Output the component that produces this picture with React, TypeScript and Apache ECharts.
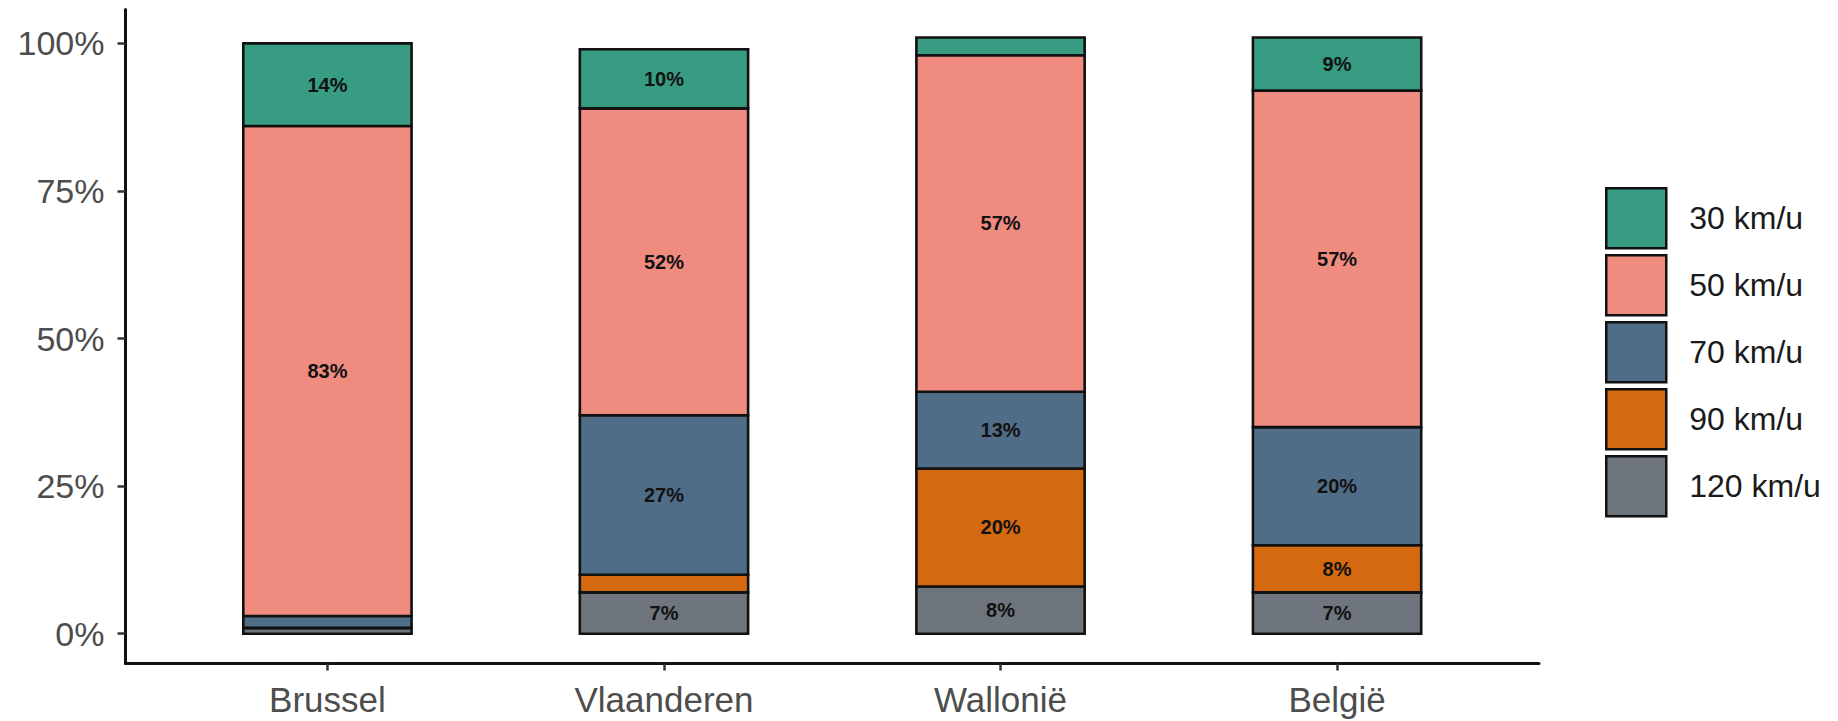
import React, { useEffect, useRef } from "react";
import * as echarts from "echarts";

const categories = ["Brussel", "Vlaanderen", "Wallonië", "België"];
const speedLabels = ["30 km/u", "50 km/u", "70 km/u", "90 km/u", "120 km/u"];
// shares per region (fractions), bottom of stack is 120 km/u
const share120 = [0.01, 0.07, 0.08, 0.07];
const share90 = [0.0, 0.03, 0.2, 0.08];
const share70 = [0.02, 0.27, 0.13, 0.2];
const share50 = [0.83, 0.52, 0.57, 0.57];
const share30 = [0.14, 0.1, 0.03, 0.09];
const yTicks = [0, 0.25, 0.5, 0.75, 1];
const xTicks = [0, 1, 2, 3];

const colors: Record<string, string> = {
  "30 km/u": "#379C82",
  "50 km/u": "#F08B80",
  "70 km/u": "#4F6D87",
  "90 km/u": "#D5690F",
  "120 km/u": "#6E757D",
};

const FONT = "Liberation Sans, Arial, Helvetica, sans-serif";
const Y_MIN = -0.0504;
const Y_MAX = 1.0576;

export default function App() {
  const ref = useRef<HTMLDivElement>(null);
  useEffect(() => {
    document.body.style.margin = "0";
    if (!ref.current) return;
    const chart = echarts.init(ref.current, undefined, { renderer: "svg" });
    const stackOrder: [string, number[]][] = [
      ["120 km/u", share120],
      ["90 km/u", share90],
      ["70 km/u", share70],
      ["50 km/u", share50],
      ["30 km/u", share30],
    ];
    const cumulative = categories.map(() => 0);
    const series = stackOrder.map(([name, vals]) => {
      const data = vals.map((v, i) => {
        const base = cumulative[i];
        cumulative[i] += v;
        return [i, v, base];
      });
      const color = colors[name];
      return {
        name,
        type: "custom",
        itemStyle: { color },
        data,
        encode: { x: 0, y: [1, 2] },
        renderItem: (params: any, api: any) => {
          const i = api.value(0);
          const v = api.value(1);
          const base = api.value(2);
          const p0 = api.coord([i, base]);
          const p1 = api.coord([i, base + v]);
          const w = api.size([1, 0])[0] * 0.5;
          const label = v >= 0.05 ? Math.round(v * 100) + "%" : "";
          return {
            type: "rect",
            shape: { x: p0[0] - w / 2, y: p1[1], width: w, height: p0[1] - p1[1] },
            style: { fill: color, stroke: "#111", lineWidth: 2.6 },
            textContent: {
              style: {
                text: label,
                fontFamily: FONT,
                fontWeight: "bold",
                fontSize: 20,
                fill: "#111",
              },
            },
            textConfig: { position: "inside" },
          };
        },
      };
    });
    chart.setOption({
      animation: false,
      backgroundColor: "#ffffff",
      grid: { left: 125.5, right: 299, top: 9.4, bottom: 57.5 },
      xAxis: {
        type: "value",
        min: -0.6,
        max: 3.6,
        splitLine: { show: false },
        axisLine: { show: true, onZero: false, lineStyle: { color: "#111", width: 3 } },
        axisTick: { show: true, customValues: xTicks, length: 7, lineStyle: { color: "#333", width: 2.5 } },
        axisLabel: {
          customValues: xTicks,
          formatter: (v: number) => categories[Math.round(v)] ?? "",
          fontFamily: FONT,
          fontSize: 35,
          color: "#4D4D4D",
          margin: 18,
        },
      },
      yAxis: {
        type: "value",
        min: Y_MIN,
        max: Y_MAX,
        splitLine: { show: false },
        axisLine: { show: true, onZero: false, lineStyle: { color: "#111", width: 3 } },
        axisTick: { show: true, customValues: yTicks, length: 8, lineStyle: { color: "#333", width: 2.5 } },
        axisLabel: {
          customValues: yTicks,
          formatter: (v: number) => Math.round(v * 100) + "%",
          fontFamily: FONT,
          fontSize: 34,
          color: "#4D4D4D",
          margin: 21,
        },
      },
      legend: {
        orient: "vertical",
        left: 1605,
        top: 187,
        padding: 0,
        itemWidth: 60,
        itemHeight: 60,
        itemGap: 4.5,
        data: speedLabels.map((n) => ({ name: n, icon: "rect" })),
        itemStyle: { borderColor: "#111", borderWidth: 2.5 },
        textStyle: { fontFamily: FONT, fontSize: 32, color: "#1A1A1A", padding: [0, 0, 0, 18] },
        selectedMode: false,
      },
      series,
    });
    return () => chart.dispose();
  }, []);
  return <div ref={ref} style={{ width: 1838, height: 721 }} />;
}
